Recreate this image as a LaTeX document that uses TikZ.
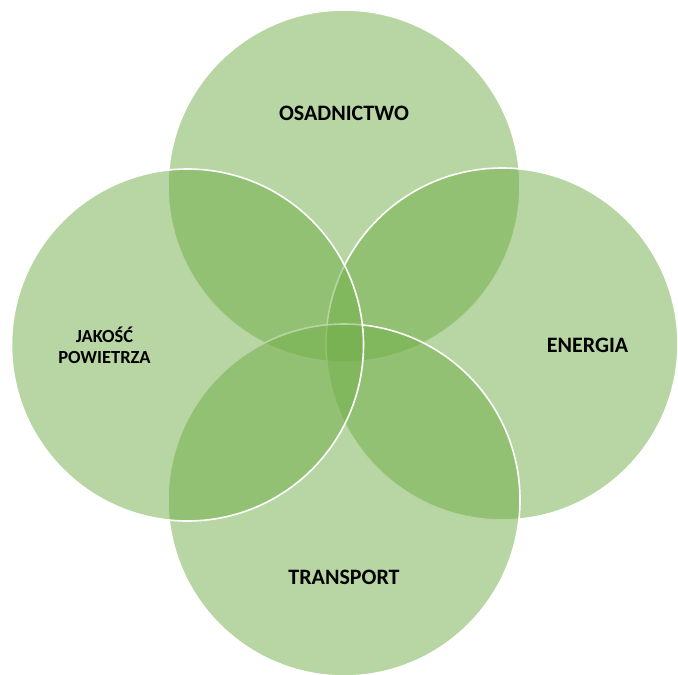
\documentclass[tikz,border=0pt]{standalone}
\usepackage{fontspec}
\setmainfont{Carlito}
\definecolor{vgreen}{HTML}{70AD47}
\begin{document}
\begin{tikzpicture}[x=1pt,y=-1pt,
  venn/.style={circle, minimum size=352pt, inner sep=0pt, fill=vgreen, fill opacity=0.5, draw=white, draw opacity=1, line width=1.6pt},
  lbl/.style={font=\fontsize{22}{26}\selectfont\bfseries, text=black, align=center, inner sep=0pt},
  lbls/.style={font=\fontsize{18.5}{21}\selectfont\bfseries, text=black, align=center, inner sep=0pt}]
\useasboundingbox (0,0) rectangle (678,675);
\node[venn] (ctop) at (344,186) {};
\node[venn] (cright) at (502,344) {};
\node[venn] (cbottom) at (344,500) {};
\node[venn] (cleft) at (187.5,345) {};
\node[lbl] (ttop) at (344,113) {OSADNICTWO};
\node[lbl] (tright) at (587.5,345) {ENERGIA};
\node[lbl] (tbottom) at (344,577) {TRANSPORT};
\node[lbls] (tleft) at (104.5,345) {JAKOŚĆ\\POWIETRZA};
\end{tikzpicture}
\end{document}
